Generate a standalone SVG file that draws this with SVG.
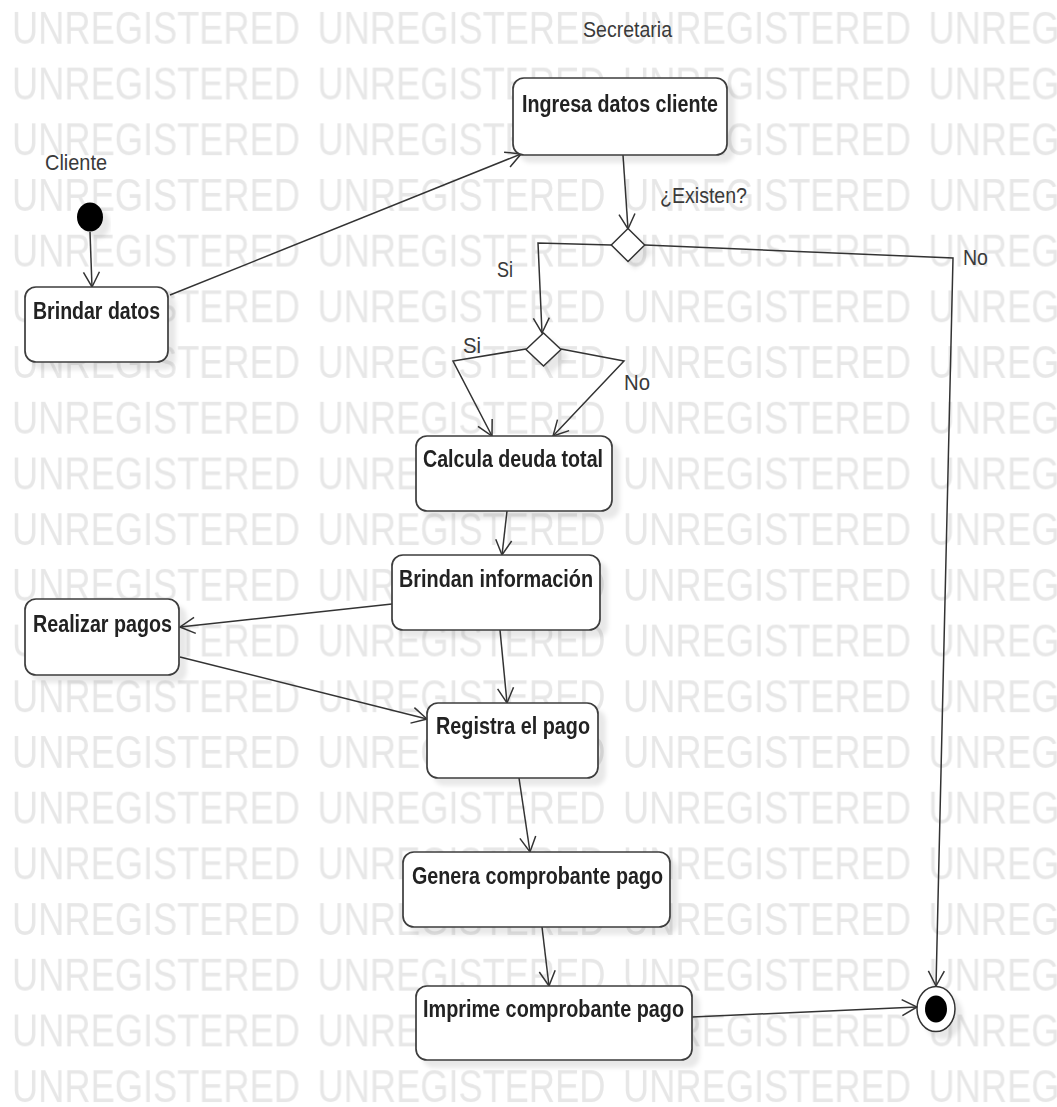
<svg xmlns="http://www.w3.org/2000/svg" width="1057" height="1107" viewBox="0 0 1057 1107">
  <defs>
    <style>
      .wm { font-family: "Liberation Sans", Arial, sans-serif; font-size: 46px; fill: #e7e7e7; }
      .act { fill: #ffffff; stroke: #3c3c3c; stroke-width: 1.7; }
      .lbl { font-family: "Liberation Sans", Arial, sans-serif; font-weight: bold; font-size: 23px; fill: #222222; }
      .cap { font-family: "Liberation Sans", Arial, sans-serif; font-size: 22px; fill: #3a3a3a; }
      .edge { fill: none; stroke: #333333; stroke-width: 1.5; marker-end: url(#open); }
      .dec { fill: #ffffff; stroke: #333333; stroke-width: 1.5; }
    </style>
    <pattern id="unreg" patternUnits="userSpaceOnUse" x="0" y="0" width="305.5" height="55.7">
      <text class="wm" x="12" y="44" textLength="288" lengthAdjust="spacingAndGlyphs">UNREGISTERED</text>
    </pattern>
    <filter id="shadow" x="-20%" y="-20%" width="150%" height="160%">
      <feDropShadow dx="7" dy="7" stdDeviation="2.2" flood-color="#000000" flood-opacity="0.09"/>
    </filter>
    <marker id="open" markerUnits="userSpaceOnUse" markerWidth="18" markerHeight="18" viewBox="-1 -1 18 18" refX="15" refY="8" orient="auto">
      <path d="M0,0 L15,8 L0,16" fill="none" stroke="#333333" stroke-width="1.5"/>
    </marker>
  </defs>

  <rect width="1057" height="1107" fill="#ffffff"/>
  <g id="watermark">
    <rect width="1057" height="1107" fill="url(#unreg)"/>
  </g>

  <!-- partition names -->
  <g id="partitions">
    <text class="cap" x="45" y="170" textLength="62" lengthAdjust="spacingAndGlyphs">Cliente</text>
    <text class="cap" x="583" y="37" textLength="89" lengthAdjust="spacingAndGlyphs">Secretaria</text>
  </g>

  <!-- transitions -->
  <g id="connectors">
    <path class="edge" d="M90,232 L92,287"/>
    <path class="edge" d="M170,295 L521,154"/>
    <path class="edge" d="M623,155 L628,229"/>
    <path class="edge" d="M611,245 L538,243 L542,333"/>
    <path class="edge" d="M645,245 L953,258 L936,986"/>
    <path class="edge" d="M526,349 L453,361 L492,436"/>
    <path class="edge" d="M561,349 L624,361 L553,436"/>
    <path class="edge" d="M507,511 L502,555"/>
    <path class="edge" d="M392,604 L180,627"/>
    <path class="edge" d="M180,657 L427,719"/>
    <path class="edge" d="M500,630 L507,703"/>
    <path class="edge" d="M519,778 L530,852"/>
    <path class="edge" d="M542,927 L549,986"/>
    <path class="edge" d="M692,1017 L917,1007"/>
    <text class="cap" x="660" y="203" textLength="87" lengthAdjust="spacingAndGlyphs">¿Existen?</text>
    <text class="cap" x="497" y="277" textLength="16" lengthAdjust="spacingAndGlyphs">Si</text>
    <text class="cap" x="963" y="265" textLength="25" lengthAdjust="spacingAndGlyphs">No</text>
    <text class="cap" x="463" y="353" textLength="18" lengthAdjust="spacingAndGlyphs">Si</text>
    <text class="cap" x="624" y="390" textLength="26" lengthAdjust="spacingAndGlyphs">No</text>
  </g>

  <!-- start / end -->
  <g id="initial" filter="url(#shadow)">
    <ellipse cx="90" cy="217" rx="13" ry="14.5" fill="#000000"/>
  </g>
  <g id="final" filter="url(#shadow)">
    <ellipse cx="936" cy="1009" rx="19" ry="22.5" fill="#ffffff" stroke="#333333" stroke-width="1.5"/>
    <ellipse cx="936" cy="1009" rx="11" ry="13.5" fill="#000000"/>
  </g>

  <!-- decisions -->
  <g id="existen" filter="url(#shadow)">
    <path class="dec" d="M628,228.5 L644.7,245 L628,261.5 L611.3,245 Z"/>
  </g>
  <g id="merge" filter="url(#shadow)">
    <path class="dec" d="M543.5,333 L561,349.5 L543.5,366 L526,349.5 Z"/>
  </g>

  <!-- actions -->
  <g id="brindar-datos" filter="url(#shadow)">
    <rect class="act" x="25" y="287" width="143" height="75" rx="11"/>
    <text class="lbl" x="33" y="319" textLength="127" lengthAdjust="spacingAndGlyphs">Brindar datos</text>
  </g>
  <g id="ingresa-datos" filter="url(#shadow)">
    <rect class="act" x="513" y="78" width="214" height="77" rx="11"/>
    <text class="lbl" x="522" y="112" textLength="196" lengthAdjust="spacingAndGlyphs">Ingresa datos cliente</text>
  </g>
  <g id="calcula-deuda" filter="url(#shadow)">
    <rect class="act" x="416" y="436" width="196" height="75" rx="11"/>
    <text class="lbl" x="423" y="467" textLength="180" lengthAdjust="spacingAndGlyphs">Calcula deuda total</text>
  </g>
  <g id="brindan-info" filter="url(#shadow)">
    <rect class="act" x="392" y="555" width="208" height="75" rx="11"/>
    <text class="lbl" x="399" y="587" textLength="194" lengthAdjust="spacingAndGlyphs">Brindan información</text>
  </g>
  <g id="realizar-pagos" filter="url(#shadow)">
    <rect class="act" x="25" y="599" width="154" height="76" rx="11"/>
    <text class="lbl" x="33" y="632" textLength="139" lengthAdjust="spacingAndGlyphs">Realizar pagos</text>
  </g>
  <g id="registra-pago" filter="url(#shadow)">
    <rect class="act" x="427" y="703" width="171" height="75" rx="11"/>
    <text class="lbl" x="436" y="734" textLength="154" lengthAdjust="spacingAndGlyphs">Registra el pago</text>
  </g>
  <g id="genera-comprobante" filter="url(#shadow)">
    <rect class="act" x="403" y="852" width="267" height="75" rx="11"/>
    <text class="lbl" x="412" y="884" textLength="251" lengthAdjust="spacingAndGlyphs">Genera comprobante pago</text>
  </g>
  <g id="imprime-comprobante" filter="url(#shadow)">
    <rect class="act" x="416" y="986" width="276" height="74" rx="11"/>
    <text class="lbl" x="423" y="1017" textLength="261" lengthAdjust="spacingAndGlyphs">Imprime comprobante pago</text>
  </g>
</svg>
